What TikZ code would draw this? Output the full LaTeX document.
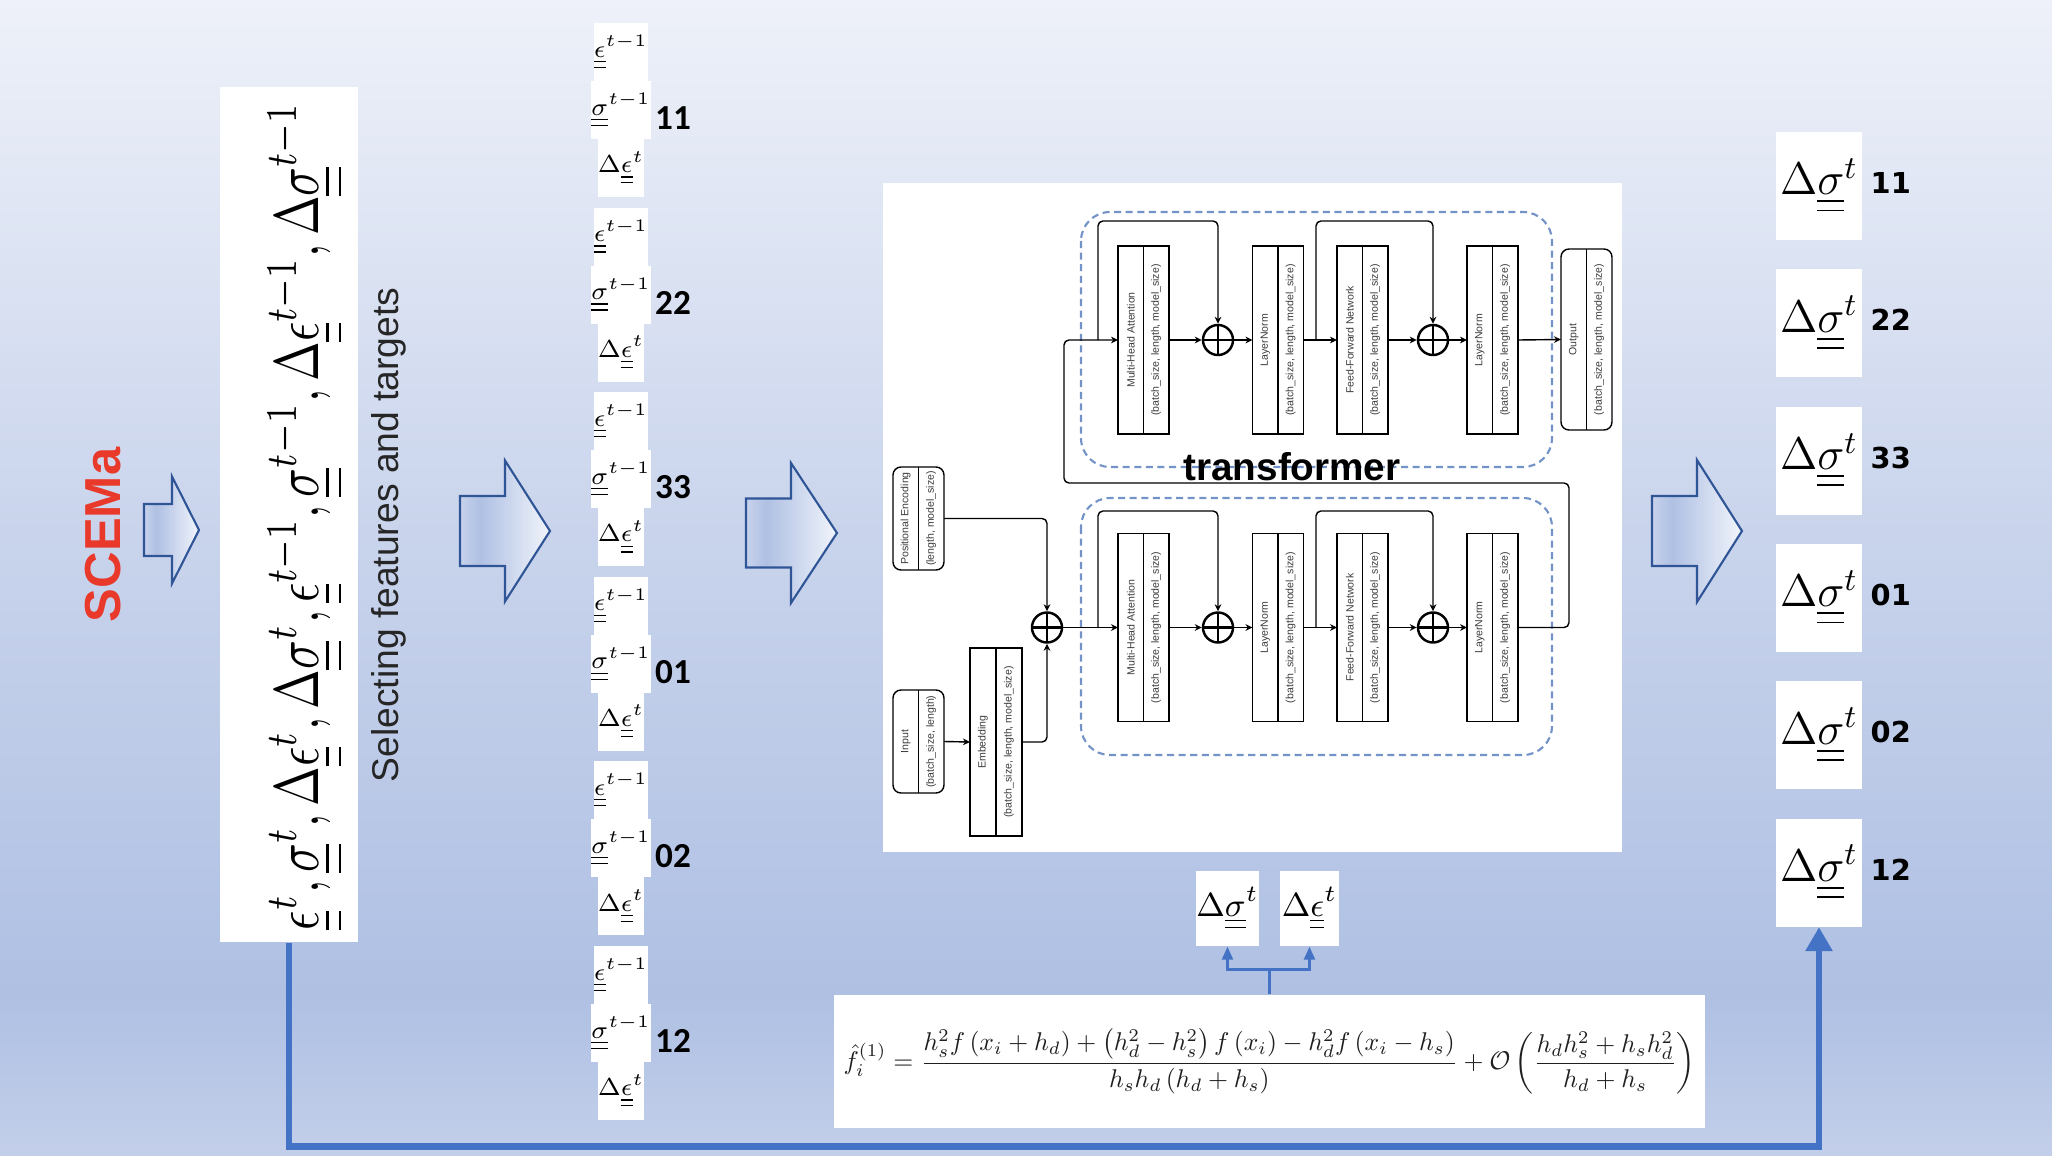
\RequirePackage{fix-cm}
\documentclass[tikz,border=0pt]{standalone}
\usepackage{amsmath,amssymb}
\usepackage{fontspec}
\usepackage{graphicx}
\usepackage{xcolor}
\usetikzlibrary{positioning,calc,arrows.meta,shapes}
\newfontfamily\arialfont{Liberation Sans}
\newfontfamily\calibrifont{Carlito}
\newfontfamily\verdanafont{DejaVu Sans}
\newcommand{\tnsr}[1]{\underline{\underline{#1}}}
\definecolor{bgtop}{HTML}{EEF1F9}
\definecolor{bgmid}{HTML}{C9D4EC}
\definecolor{bgdark}{HTML}{AFC0E3}
\definecolor{bgbot}{HTML}{C3CFEA}
\definecolor{arfirst}{HTML}{C8D3EC}
\definecolor{ardark}{HTML}{AFC0E3}
\definecolor{arright}{HTML}{F1F4FB}
\definecolor{arrowline}{HTML}{2F5597}
\definecolor{dashblue}{HTML}{7393C8}
\definecolor{tfgray}{HTML}{3C3C3C}
\definecolor{linkblue}{HTML}{4472C4}
\definecolor{scemared}{HTML}{E8392B}
\pgfdeclareverticalshading{bgshade}{100bp}{color(0bp)=(bgbot); color(25bp)=(bgbot); color(32bp)=(bgdark); color(52bp)=(bgmid); color(75bp)=(bgtop); color(100bp)=(bgtop)}
\pgfdeclarehorizontalshading{arrowshade}{100bp}{color(0bp)=(arfirst); color(25bp)=(arfirst); color(36bp)=(ardark); color(75bp)=(arright); color(100bp)=(arright)}

\begin{document}
\begin{tikzpicture}[x=0.1mm, y=-0.1mm,
    tfbox/.style={draw, line width=0.4pt, fill=white, minimum width=5.1mm, minimum height=18.8mm, inner sep=0pt, outer sep=0pt},
    tfround/.style={tfbox, rounded corners=0.8mm},
    tftext/.style={font=\arialfont\fontsize{3}{3.5}\selectfont, text=tfgray, inner sep=0pt, rotate=90},
    tfline/.style={draw, line width=0.4pt},
    tfarrow/.style={tfline, -{Stealth[length=2pt,width=1.9pt]}, rounded corners=1.4pt},
    addnode/.style={circle, draw, line width=0.7pt, fill=white, minimum size=3mm, inner sep=0pt, path picture={\draw[line width=0.7pt] (path picture bounding box.north) -- (path picture bounding box.south) (path picture bounding box.west) -- (path picture bounding box.east);}},
    tfgroup/.style={draw=dashblue, line width=0.6pt, dash pattern=on 2pt off 1.3pt, rounded corners=2.9mm},
    bigarrow/.style={draw=arrowline, line width=0.6pt, shading=arrowshade},
    featbox/.style={fill=white, minimum width=4.4mm, minimum height=5.8mm, inner sep=0pt, outer sep=0pt, font=\fontsize{7}{8}\selectfont},
    targbox/.style={fill=white, minimum width=8.6mm, minimum height=10.8mm, inner sep=0pt, font=\fontsize{13}{15}\selectfont},
    pairbox/.style={fill=white, minimum width=5.9mm, minimum height=7.5mm, inner sep=0pt, font=\fontsize{9.5}{11}\selectfont},
    grouplbl/.style={font=\calibrifont\bfseries\fontsize{10}{12}\selectfont},
    targlbl/.style={font=\verdanafont\bfseries\fontsize{8.2}{10}\selectfont, anchor=west, inner sep=0pt},
    bluelink/.style={draw=linkblue, line width=0.7pt, -{Triangle[length=1.3mm,width=1.1mm]}},
    thicklink/.style={draw=linkblue, line width=1.85pt, -{Triangle[length=2.4mm,width=2.6mm]}}
  ]
  \useasboundingbox (0,0) rectangle (2052,1156);
  \path[shading=bgshade] (0,0) rectangle (2052,1156);

  % SCEMa and the block arrows
  \node[rotate=90, text=scemared, font=\arialfont\bfseries\fontsize{14.4}{16}\selectfont] (scema) at (103,535) {SCEMa};
  \foreach \xa/\xb/\xc/\ym/\hs/\hh in {144/172/199/530/26/53.5, 460/505/550/531/35/70.5, 746/791/837/533/34.5/70, 1652/1697/1742/531/35/71}
    \draw[bigarrow] (\xa,{\ym-\hs}) -- (\xb,{\ym-\hs}) -- (\xb,{\ym-\hh}) -- (\xc,\ym) -- (\xb,{\ym+\hh}) -- (\xb,{\ym+\hs}) -- (\xa,{\ym+\hs}) -- cycle;

  % all features
  \node[fill=white, minimum width=13.8mm, minimum height=85.5mm, inner sep=0pt] (feat) at (289,514.5) {};
  \node[rotate=90, inner sep=0pt] (featlist) at (306,516) {\resizebox*{82.8mm}{7.6mm}{$\tnsr{\epsilon}^t, \tnsr{\sigma}^t, \Delta\tnsr{\epsilon}^t, \Delta\tnsr{\sigma}^t, \tnsr{\epsilon}^{t-1}, \tnsr{\sigma}^{t-1}, \Delta\tnsr{\epsilon}^{t-1}, \Delta\tnsr{\sigma}^{t-1}$}};
  \node[rotate=90, text=black!85, font=\arialfont\fontsize{10.6}{12}\selectfont] (select) at (389,535) {Selecting features and targets};

  % selected inputs per component
  \foreach \lbl [count=\k from 0] in {11,22,33,01,02,12} {
    \pgfmathsetmacro{\ytop}{23+184.6*\k}
    \node[featbox] (e\lbl) at (621,{\ytop+29}) {$\tnsr{\epsilon}^{t-1}$};
    \node[featbox, below=0pt of e\lbl] (s\lbl) {$\tnsr{\sigma}^{t-1}$};
    \node[featbox, below=0pt of s\lbl] (d\lbl) {$\Delta\tnsr{\epsilon}^{t}$};
    \node[grouplbl] (g\lbl) at (673,{\ytop+95}) {\lbl};
  }

  % transformer
  \fill[white] (883,183) rectangle (1622,852);
  \draw[tfgroup] (1081,212) rectangle (1552,467);
  \draw[tfgroup] (1081,498) rectangle (1552,755);

  \foreach \row/\yc in {U/340, L/627.5} {
    \foreach \nm/\xc/\lbl in {mha/1143.5/Multi-Head Attention, lnA/1278/LayerNorm, ffn/1362.5/Feed-Forward Network, lnB/1492.5/LayerNorm} {
      \node[tfbox] (\nm\row) at (\xc,\yc) {};
      \draw[tfline] (\nm\row.north) -- (\nm\row.south);
      \node[tftext] at ([xshift=-1.275mm]\nm\row.center) {\lbl};
      \node[tftext] at ([xshift=1.275mm]\nm\row.center) {(batch\_size, length, model\_size)};
    }
    \node[addnode] (pA\row) at (1218,\yc) {};
    \node[addnode] (pB\row) at (1433,\yc) {};
    \coordinate (skA\row) at (1098,\yc);
    \coordinate (skB\row) at (1316,\yc);
  }

  \node[tfround, minimum height=18.1mm] (out) at (1586.5,339.5) {};
  \draw[tfline] (out.north) -- (out.south);
  \node[tftext] at ([xshift=-1.275mm]out.center) {Output};
  \node[tftext] at ([xshift=1.275mm]out.center) {(batch\_size, length, model\_size)};

  \node[tfround, minimum height=10.3mm] (pe) at (918.5,518.5) {};
  \draw[tfline] (pe.north) -- (pe.south);
  \node[tftext] at ([xshift=-1.275mm]pe.center) {Positional Encoding};
  \node[tftext] at ([xshift=1.275mm]pe.center) {(length, model\_size)};

  \node[tfround, minimum height=10.3mm] (inp) at (918.5,741.5) {};
  \draw[tfline] (inp.north) -- (inp.south);
  \node[tftext] at ([xshift=-1.275mm]inp.center) {Input};
  \node[tftext] at ([xshift=1.275mm]inp.center) {(batch\_size, length)};

  \node[tfbox, minimum width=5.2mm] (emb) at (996,742) {};
  \draw[tfline] (emb.north) -- (emb.south);
  \node[tftext] at ([xshift=-1.3mm]emb.center) {Embedding};
  \node[tftext] at ([xshift=1.3mm]emb.center) {(batch\_size, length, model\_size)};

  \node[addnode] (p0) at (1047,627.5) {};

  \draw[tfarrow] (pe.east) -| (p0.north);
  \draw[tfarrow] (inp.east) -- (emb.west);
  \draw[tfarrow] (emb.east) -| (p0.south);
  \draw[tfarrow] (p0.east) -- (mhaL.west);
  \foreach \row/\rise in {U/119, L/116.5} {
    \draw[tfarrow] (mha\row.east) -- (pA\row.west);
    \draw[tfarrow] (pA\row.east) -- (lnA\row.west);
    \draw[tfarrow] (lnA\row.east) -- (ffn\row.west);
    \draw[tfarrow] (ffn\row.east) -- (pB\row.west);
    \draw[tfarrow] (pB\row.east) -- (lnB\row.west);
    \draw[tfarrow] (skA\row) -- ++(0,-\rise) -| (pA\row.north);
    \draw[tfarrow] (skB\row) -- ++(0,-\rise) -| (pB\row.north);
  }
  \coordinate (loopturn) at (1064,483);
  \draw[tfarrow] (lnBL.east) -- ++(51,0) |- (loopturn) |- (mhaU.west);
  \draw[tfarrow] (lnBU.east) -- (out.west);
  \node[anchor=base, font=\arialfont\bfseries\fontsize{11}{12}\selectfont] (tftitle) at (1292,480) {transformer};

  % predicted stress increments
  \foreach \lbl [count=\k from 0] in {11,22,33,01,02,12} {
    \pgfmathsetmacro{\yc}{186+137.3*\k}
    \node[targbox] (t\lbl) at (1819,\yc) {$\Delta\tnsr{\sigma}^{t}$};
    \node[targlbl] (tl\lbl) at (1870,{\yc-3}) {\lbl};
  }

  % finite difference
  \node[fill=white, minimum width=87.1mm, minimum height=13.3mm, inner sep=0pt, text=black!88] (fd) at (1269.5,1061.5) {\resizebox{85.2mm}{!}{$\displaystyle \hat{f}_i^{(1)} = \frac{h_s^2 f\left(x_i+h_d\right) + \left(h_d^2-h_s^2\right) f\left(x_i\right) - h_d^2 f\left(x_i-h_s\right)}{h_s h_d \left(h_d+h_s\right)} + \mathcal{O}\left(\frac{h_d h_s^2 + h_s h_d^2}{h_d+h_s}\right)$}};
  \node[pairbox] (dsig) at (1227.5,908.5) {$\Delta\tnsr{\sigma}^{t}$};
  \node[pairbox] (deps) at (1309.5,908.5) {$\Delta\tnsr{\epsilon}^{t}$};
  \draw[bluelink] (fd.north) -- ++(0,-25) -| (dsig.south);
  \draw[bluelink] (fd.north) -- ++(0,-25) -| (deps.south);

  \draw[thicklink] (feat.south) -- ++(0,204) -| (t12.south);
\end{tikzpicture}
\end{document}
